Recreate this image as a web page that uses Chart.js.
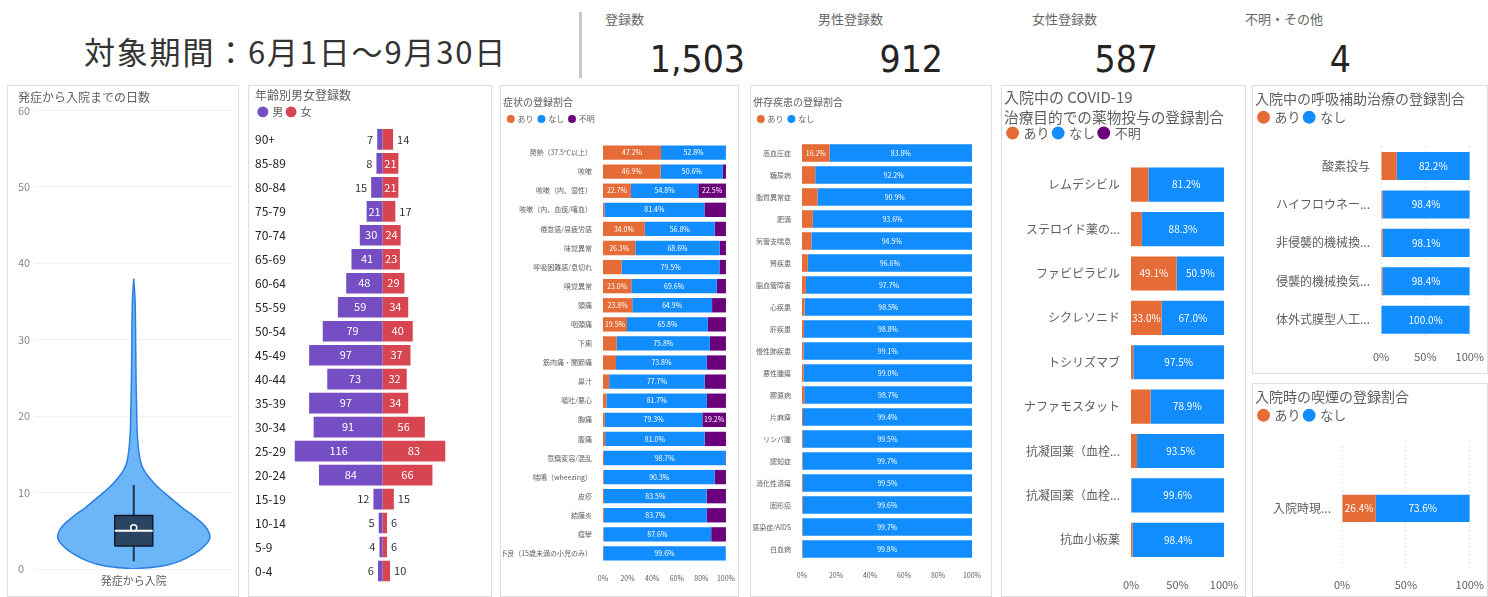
<!DOCTYPE html>
<html lang="ja">
<head>
<meta charset="utf-8">
<title>COVID-19 登録状況</title>
<script src="https://cdn.jsdelivr.net/npm/chart.js@4.4.1/dist/chart.umd.min.js"></script>
<style>
  body { margin: 0; width: 1488px; height: 597px; overflow: hidden; background: #fff;
         font-family: "Noto Sans CJK JP", "Noto Sans", sans-serif; }
  .panel { position: absolute; border: 1px solid #dedede; box-sizing: border-box; background: #fff; }
  .inner { position: absolute; left: 0; top: 0; right: 0; bottom: 0; }
  #period { position: absolute; left: 84px; top: 28px; font-size: 31px; letter-spacing: 1.8px; color: #333; white-space: nowrap; }
  #divider { position: absolute; left: 579px; top: 12px; width: 3px; height: 66px; background: #c9c9c9; }
  .kpi-label { position: absolute; top: 9px; font-size: 13px; color: #666; white-space: nowrap; }
  .kpi-value { position: absolute; top: 38px; width: 160px; text-align: right; font-size: 37px; color: #252423;
               font-family: "DejaVu Sans Condensed", "Liberation Sans Narrow", "Roboto", sans-serif; }
</style>
</head>
<body>

<div id="period">対象期間：6月1日～9月30日</div>
<div id="divider"></div>
<div id="kpis"></div>

<div class="panel" style="left:7px;top:85px;width:232px;height:512px"><div class="inner"><canvas id="violin"></canvas></div></div>
<div class="panel" style="left:248px;top:85px;width:244px;height:512px"><div class="inner"><canvas id="pyramid"></canvas></div></div>
<div class="panel" style="left:500px;top:85px;width:239px;height:512px"><div class="inner"><canvas id="symptoms"></canvas></div></div>
<div class="panel" style="left:750px;top:85px;width:242px;height:512px"><div class="inner"><canvas id="comorb"></canvas></div></div>
<div class="panel" style="left:1001px;top:85px;width:245px;height:512px"><div class="inner"><canvas id="drugs"></canvas></div></div>
<div class="panel" style="left:1252px;top:85px;width:236px;height:289px"><div class="inner"><canvas id="resp"></canvas></div></div>
<div class="panel" style="left:1252px;top:383px;width:236px;height:214px"><div class="inner"><canvas id="smoke"></canvas></div></div>

<script>
// ---- header KPIs
var kpiLabels = ["登録数", "男性登録数", "女性登録数", "不明・その他"];
var kpiValues = ["1,503", "912", "587", "4"];

// ---- 発症から入院までの日数 (violin)
var violinDays  = [0, 0.4, 1, 2, 3, 4, 5, 6, 7, 8, 9, 10, 11, 12, 13, 14, 16, 18, 20, 25, 30, 35, 38];
var violinWidth = [0, 0.38, 0.6, 0.8, 0.93, 1.0, 0.98, 0.9, 0.78, 0.64, 0.52, 0.4, 0.29, 0.2, 0.13, 0.09, 0.06, 0.045, 0.04, 0.03, 0.025, 0.018, 0];
var boxStats = [1, 3, 5, 7, 11];   // whisker low, q1, median, q3, whisker high
var boxMean = [5.4];

// ---- 年齢別男女登録数
var ageGroups = ["90+", "85-89", "80-84", "75-79", "70-74", "65-69", "60-64", "55-59", "50-54", "45-49",
                 "40-44", "35-39", "30-34", "25-29", "20-24", "15-19", "10-14", "5-9", "0-4"];
var maleCounts   = [7, 8, 15, 21, 30, 41, 48, 59, 79, 97, 73, 97, 91, 116, 84, 12, 5, 4, 6];
var femaleCounts = [14, 21, 21, 17, 24, 23, 29, 34, 40, 37, 32, 34, 56, 83, 66, 15, 6, 6, 10];

// ---- 症状の登録割合 (%)
var symptomLabels = ["発熱（37.5℃以上）", "咳嗽", "咳嗽（内、湿性）", "咳嗽（内、血痰/喀血）", "倦怠感/易疲労感",
  "味覚異常", "呼吸困難感/息切れ", "嗅覚異常", "頭痛", "咽頭痛", "下痢", "筋肉痛・関節痛", "鼻汁", "嘔吐/悪心",
  "胸痛", "腹痛", "意識変容/混乱", "喘鳴（wheezing）", "皮疹", "結膜炎", "痙攣", "哺乳不良（15歳未満の小児のみ）"];
var symptomYes     = [47.2, 46.9, 22.7, 1.1, 34.0, 26.3, 15.2, 23.0, 23.8, 19.5, 11.1, 10.6, 5.0, 2.8, 1.5, 1.7, 0.8, 0.6, 0.8, 0.7, 0.4, 0.2];
var symptomNo      = [52.8, 50.6, 54.8, 81.4, 56.8, 68.6, 79.5, 69.6, 64.9, 65.8, 75.8, 73.8, 77.7, 81.7, 79.3, 81.0, 98.7, 90.3, 83.5, 83.7, 87.6, 99.6];
var symptomUnknown = [0, 2.5, 22.5, 17.5, 9.2, 5.1, 5.3, 7.4, 11.3, 14.7, 13.1, 15.6, 17.3, 15.5, 19.2, 17.3, 0.5, 9.1, 15.7, 15.6, 12.0, 0.2];

// ---- 併存疾患の登録割合 (%)
var comorbLabels = ["高血圧症", "糖尿病", "脂質異常症", "肥満", "気管支喘息", "腎疾患", "脳血管障害", "心疾患", "肝疾患",
  "慢性肺疾患", "悪性腫瘍", "膠原病", "片麻痺", "リンパ腫", "認知症", "消化性潰瘍", "固形癌", "HIV感染症/AIDS", "白血病"];
var comorbYes = [16.2, 7.8, 9.1, 6.4, 5.5, 3.4, 2.3, 1.5, 1.2, 0.9, 1.0, 1.3, 0.6, 0.5, 0.3, 0.5, 0.4, 0.3, 0.2];
var comorbNo  = [83.8, 92.2, 90.9, 93.6, 94.5, 96.6, 97.7, 98.5, 98.8, 99.1, 99.0, 98.7, 99.4, 99.5, 99.7, 99.5, 99.6, 99.7, 99.8];

// ---- 入院中の COVID-19 治療目的での薬物投与 (%)
var drugLabels = ["レムデシビル", "ステロイド薬の...", "ファビピラビル", "シクレソニド", "トシリズマブ", "ナファモスタット",
  "抗凝固薬（血栓...", "抗凝固薬（血栓...", "抗血小板薬"];
var drugYes     = [18.8, 11.7, 49.1, 33.0, 2.5, 21.1, 6.5, 0.4, 1.6];
var drugNo      = [81.2, 88.3, 50.9, 67.0, 97.5, 78.9, 93.5, 99.6, 98.4];
var drugUnknown = [0, 0, 0, 0, 0, 0, 0, 0, 0];

// ---- 入院中の呼吸補助治療 (%)
var respLabels = ["酸素投与", "ハイフロウネー...", "非侵襲的機械換...", "侵襲的機械換気...", "体外式膜型人工..."];
var respYes = [17.8, 1.6, 1.9, 1.6, 0.0];
var respNo  = [82.2, 98.4, 98.1, 98.4, 100.0];

// ---- 入院時の喫煙 (%)
var smokeLabels = ["入院時現..."];
var smokeYes = [26.4];
var smokeNo  = [73.6];

var ORANGE = "#E66C37", BLUE = "#118DFF", PURPLE = "#6B007B";
var MALE = "#744EC2", FEMALE = "#D64550";

// header
var kpiX = [605, 818, 1032, 1245];
var kpiRight = [745, 943, 1158, 1351];
var kpiBox = document.getElementById("kpis");
kpiLabels.forEach(function (t, i) {
  var l = document.createElement("div");
  l.className = "kpi-label"; l.style.left = kpiX[i] + "px"; l.textContent = t;
  kpiBox.appendChild(l);
  var v = document.createElement("div");
  v.className = "kpi-value"; v.style.left = (kpiRight[i] - 160) + "px"; v.textContent = kpiValues[i];
  kpiBox.appendChild(v);
});

Chart.defaults.font.family = '"Noto Sans CJK JP", "Noto Sans", sans-serif';
Chart.defaults.color = "#605e5c";
Chart.defaults.animation = false;
Chart.defaults.plugins.tooltip.enabled = false;

// value labels inside bars (outside when they don't fit)
var valueLabels = {
  id: "valueLabels",
  afterDatasetsDraw: function (chart, args, opts) {
    if (!opts.enabled) return;
    var ctx = chart.ctx;
    ctx.save();
    ctx.font = opts.size + "px " + Chart.defaults.font.family;
    ctx.textBaseline = "middle";
    chart.data.datasets.forEach(function (ds, i) {
      chart.getDatasetMeta(i).data.forEach(function (bar, j) {
        var v = ds.data[j];
        if (!v) return;
        var text = opts.percent ? v.toFixed(1) + "%" : String(Math.abs(v));
        var w = Math.abs(bar.x - bar.base);
        var tw = ctx.measureText(text).width;
        if (w >= tw + opts.pad) {
          ctx.fillStyle = "#fff";
          ctx.textAlign = "center";
          ctx.fillText(text, (bar.x + bar.base) / 2, bar.y);
        } else if (opts.outside) {
          var left = bar.x < bar.base;
          ctx.fillStyle = opts.outside;
          ctx.textAlign = left ? "right" : "left";
          ctx.fillText(text, bar.x + (left ? -4 : 4), bar.y);
        }
      });
    });
    ctx.restore();
  }
};
Chart.register(valueLabels);

function titleOpt(text, size, top, bottom, lh) {
  return { display: true, text: text, align: "start", color: "#605e5c",
           font: { size: size, weight: "normal", lineHeight: lh || 1.2 }, padding: { top: top, bottom: bottom } };
}
function legendOpt(size, pad) {
  return { display: true, align: "start",
           labels: { usePointStyle: true, pointStyle: "circle", boxWidth: size * 0.7, boxHeight: size * 0.7,
                     padding: pad, color: "#605e5c", font: { size: size } } };
}
// empty top axis used only as a spacer between the legend and the bars
function gapAxis(h) {
  return { type: "linear", position: "top", display: true, grid: { display: false },
           border: { display: false }, ticks: { display: false },
           afterFit: function (s) { s.height = h; } };
}

// 100% stacked horizontal bars
function stackedBar(id, labels, sets, c) {
  return new Chart(id, {
    type: "bar",
    data: {
      labels: labels,
      datasets: sets.map(function (s) {
        return { label: s[0], data: s[1], backgroundColor: s[2], borderWidth: 0, xAxisID: "x", yAxisID: "y",
                 categoryPercentage: c.cat, barPercentage: 1 };
      })
    },
    options: {
      indexAxis: "y",
      maintainAspectRatio: false,
      layout: { padding: { left: 2, right: c.padRight, top: 0, bottom: 0 } },
      scales: {
        x: {
          stacked: true, min: 0, max: 100,
          grid: { display: c.grid, color: "#d0d0d0", drawTicks: true, tickLength: c.tickLen, tickColor: "rgba(0,0,0,0)" },
          border: { display: false, dash: [1, 3] },
          ticks: { stepSize: c.step, autoSkip: false, maxRotation: 0, padding: 3,
                   font: { size: c.tickSize }, color: "#605e5c",
                   callback: function (v) { return v + "%"; } },
          afterFit: function (s) { s.height = c.xHeight; }
        },
        y: {
          stacked: true,
          grid: { display: false }, border: { display: false },
          ticks: { autoSkip: false, font: { size: c.labelSize }, color: "#605e5c" },
          afterFit: function (s) { s.width = c.yWidth; }
        },
        gap: gapAxis(c.gap)
      },
      plugins: {
        title: titleOpt(c.title, c.titleSize, c.titleTop, c.titleBottom, c.titleLH),
        legend: legendOpt(c.legendSize, c.legendPad),
        valueLabels: { enabled: true, percent: true, size: c.valueSize, pad: 2 }
      }
    }
  });
}

// violin + box
var rightSide = violinDays.map(function (d, i) { return { x: violinWidth[i], y: d }; });
var leftSide = violinDays.map(function (d, i) { return { x: -violinWidth[i], y: d }; }).reverse();
var bw = 0.25;
new Chart("violin", {
  type: "scatter",
  data: {
    datasets: [
      { data: [{ x: 0, y: boxMean[0] }], pointRadius: 3, pointBackgroundColor: "#1f3550",
        pointBorderColor: "#fff", pointBorderWidth: 1.5 },
      { data: [{ x: -bw, y: boxStats[2] }, { x: bw, y: boxStats[2] }], showLine: true,
        borderColor: "#fff", borderWidth: 2, pointRadius: 0 },
      { data: [{ x: -bw, y: boxStats[1] }, { x: bw, y: boxStats[1] }, { x: bw, y: boxStats[3] },
               { x: -bw, y: boxStats[3] }, { x: -bw, y: boxStats[1] }],
        showLine: true, fill: "shape", backgroundColor: "#2b4462", borderColor: "#0e1a2a", borderWidth: 1.5, pointRadius: 0 },
      { data: [{ x: 0, y: boxStats[0] }, { x: 0, y: boxStats[4] }], showLine: true,
        borderColor: "#1f3550", borderWidth: 2, pointRadius: 0 },
      { data: rightSide.concat(leftSide), showLine: true, fill: "shape", tension: 0.35,
        backgroundColor: "#6cb6f8", borderColor: "#2b7fe0", borderWidth: 1.5, pointRadius: 0 }
    ]
  },
  options: {
    maintainAspectRatio: false,
    layout: { padding: { left: 10, right: 4, top: 0, bottom: 0 } },
    scales: {
      x: { min: -1.3, max: 1.3, grid: { display: false }, border: { display: false },
           ticks: { display: false },
           title: { display: true, text: "発症から入院", color: "#605e5c", font: { size: 11 },
                    padding: { top: 0, bottom: 9 } },
           afterFit: function (s) { s.height = 27; } },
      y: { min: 0, max: 60, grid: { color: "#f1f1f1", drawTicks: false }, border: { display: false },
           ticks: { stepSize: 10, crossAlign: "far", font: { size: 11 }, color: "#888" },
           afterFit: function (s) { s.width = 17; } }
    },
    plugins: {
      legend: { display: false },
      title: titleOpt("発症から入院までの日数", 12, 4, 6)
    }
  }
});

// age pyramid
new Chart("pyramid", {
  type: "bar",
  data: {
    labels: ageGroups,
    datasets: [
      { label: "男", data: maleCounts.map(function (v) { return -v; }), backgroundColor: MALE,
        categoryPercentage: 0.86, barPercentage: 1 },
      { label: "女", data: femaleCounts, backgroundColor: FEMALE, categoryPercentage: 0.86, barPercentage: 1 }
    ]
  },
  options: {
    indexAxis: "y",
    maintainAspectRatio: false,
    layout: { padding: { left: 6, right: 20, top: 0, bottom: 13 } },
    scales: {
      x: { stacked: true, min: -117, max: 117, display: false },
      y: { stacked: true, grid: { display: false }, border: { display: false },
           ticks: { crossAlign: "far", autoSkip: false, font: { size: 12 }, color: "#252423" },
           afterFit: function (s) { s.width = 39; } }
    },
    plugins: {
      title: titleOpt("年齢別男女登録数", 12, 2, 0),
      legend: legendOpt(11, 4),
      valueLabels: { enabled: true, percent: false, size: 11, pad: 2, outside: "#333" }
    }
  }
});

stackedBar("symptoms", symptomLabels,
  [["あり", symptomYes, ORANGE], ["なし", symptomNo, BLUE], ["不明", symptomUnknown, PURPLE]],
  { cat: 0.75, padRight: 0, gap: 10, step: 20, grid: false, tickSize: 7, tickLen: 8, labelSize: 7, valueSize: 7,
    xHeight: 33, yWidth: 100, title: "症状の登録割合", titleSize: 10, titleTop: 10, titleBottom: 2,
    legendSize: 8, legendPad: 5 });

stackedBar("comorb", comorbLabels,
  [["あり", comorbYes, ORANGE], ["なし", comorbNo, BLUE]],
  { cat: 0.8, padRight: 19, gap: 9, step: 20, grid: false, tickSize: 7, tickLen: 8, labelSize: 7, valueSize: 7,
    xHeight: 36, yWidth: 49, title: "併存疾患の登録割合", titleSize: 10, titleTop: 10, titleBottom: 2,
    legendSize: 8, legendPad: 5 });

stackedBar("drugs", drugLabels,
  [["あり", drugYes, ORANGE], ["なし", drugNo, BLUE], ["不明", drugUnknown, PURPLE]],
  { cat: 0.77, padRight: 21, gap: 13, step: 50, grid: false, tickSize: 11, tickLen: 13, labelSize: 12, valueSize: 10,
    xHeight: 34, yWidth: 127, title: ["入院中の COVID-19", "治療目的での薬物投与の登録割合"], titleSize: 15,
    titleTop: 1, titleBottom: -5, titleLH: 1.35, legendSize: 13, legendPad: 4 });

stackedBar("resp", respLabels,
  [["あり", respYes, ORANGE], ["なし", respNo, BLUE]],
  { cat: 0.73, padRight: 13, gap: 13, step: 50, grid: true, tickSize: 11, tickLen: 8, labelSize: 12, valueSize: 10,
    xHeight: 34, yWidth: 126, title: "入院中の呼吸補助治療の登録割合", titleSize: 14, titleTop: 4, titleBottom: 0,
    legendSize: 13, legendPad: 4 });

stackedBar("smoke", smokeLabels,
  [["あり", smokeYes, ORANGE], ["なし", smokeNo, BLUE]],
  { cat: 0.22, padRight: 13, gap: 15, step: 50, grid: true, tickSize: 11, tickLen: 5, labelSize: 12, valueSize: 10,
    xHeight: 26, yWidth: 87, title: "入院時の喫煙の登録割合", titleSize: 14, titleTop: 4, titleBottom: 0,
    legendSize: 13, legendPad: 4 });
</script>
</body>
</html>
